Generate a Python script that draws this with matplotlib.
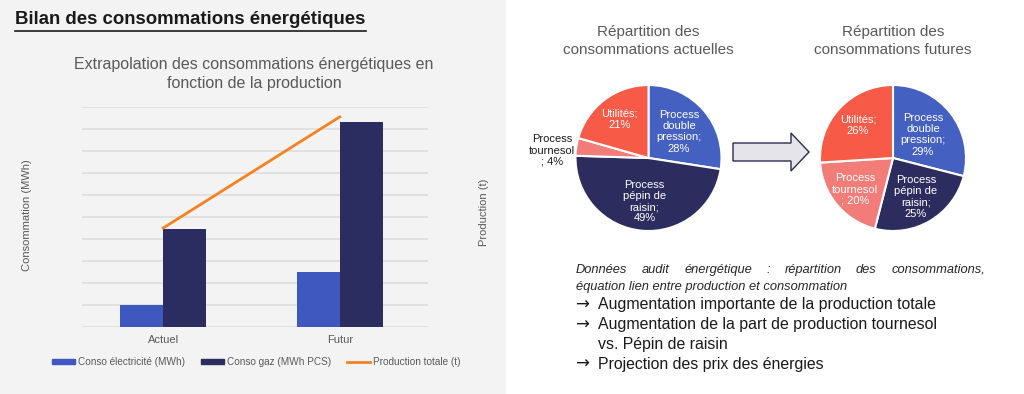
import numpy as np
import matplotlib
matplotlib.use("Agg")
import matplotlib.pyplot as plt
from matplotlib.patches import Patch, Polygon
from matplotlib.lines import Line2D

plt.rcParams['font.family'] = ['Liberation Sans', 'DejaVu Sans']

# --- data ---
categories = ["Actuel", "Futur"]
conso_elec = [1.0, 2.5]      # relative units (no axis values shown)
conso_gaz = [4.45, 9.3]
production = [4.5, 9.55]

pie_labels = ["Process\ndouble\npression;", "Process\npépin de\nraisin;", "Process\ntournesol\n;", "Utilités;"]
pie_actuel = [28, 49, 4, 21]
pie_futur = [29, 25, 20, 26]

pie_colors = ["#4460c0", "#2c2d5e", "#f27d78", "#f75a46"]
c_elec = "#3f58c0"
c_gaz = "#2b2c5f"
c_prod = "#f5821f"
gray_txt = "#595959"

W, H = 1024, 394
fig = plt.figure(figsize=(W / 100, H / 100), dpi=100)
fig.patch.set_facecolor("white")


def px_axes(x0, y0, x1, y1):
    # pixel box (top-left origin) -> figure axes
    return fig.add_axes([x0 / W, 1 - y1 / H, (x1 - x0) / W, (y1 - y0) / H])


# left grey panel
bg = fig.add_axes([0, 0, 506 / W, 1])
bg.set_facecolor("#f3f3f3")
bg.set_xticks([]); bg.set_yticks([])
for s in bg.spines.values():
    s.set_visible(False)
bg.set_zorder(-10)

fig.text(15 / W, 1 - 20 / H, "Bilan des consommations énergétiques", fontsize=13.4,
         fontweight="bold", color="#1a1a1a", va="center", ha="left")
fig.add_artist(Line2D([15 / W, 366 / W], [1 - 30.5 / H, 1 - 30.5 / H], color="#1a1a1a", lw=1.2))

fig.text(254 / W, 1 - 74 / H, "Extrapolation des consommations énergétiques en\nfonction de la production",
         fontsize=11.5, color=gray_txt, ha="center", va="center", linespacing=1.3)

# --- combo chart ---
ax = px_axes(82, 107, 428, 327)
ax.set_facecolor("none")
x = np.arange(len(categories))
w = 0.243
ax.bar(x - w / 2, conso_elec, w, color=c_elec, label="Conso électricité (MWh)", zorder=3)
ax.bar(x + w / 2, conso_gaz, w, color=c_gaz, label="Conso gaz (MWh PCS)", zorder=3)
ax.set_xlim(-0.46, 1.5)
ax.set_ylim(0, 10)
ax.set_yticks(np.arange(0, 11, 1))
ax.yaxis.grid(True, color="#dcdcdc", lw=1.1)
ax.set_axisbelow(True)
ax.set_xticks(x)
ax.set_xticklabels(categories)
for s in ax.spines.values():
    s.set_visible(False)

ax2 = ax.twinx()
ax2.plot(x, production, color=c_prod, lw=2, label="Production totale (t)", zorder=4)
ax2.set_ylim(0, 10)
ax2.set_yticks([])
for s in ax2.spines.values():
    s.set_visible(False)
# twinx turns the left ticks back on, so hide them afterwards
ax.tick_params(axis="y", left=False, labelleft=False, right=False)
ax.tick_params(axis="x", bottom=False, pad=2, labelsize=8, labelcolor=gray_txt)

fig.text(27 / W, 1 - 215 / H, "Consommation (MWh)", rotation=90, fontsize=8, color=gray_txt,
         ha="center", va="center")
fig.text(484 / W, 1 - 212 / H, "Production (t)", rotation=90, fontsize=8, color=gray_txt,
         ha="center", va="center")

handles = [Patch(color=c_elec), Patch(color=c_gaz), Line2D([], [], color=c_prod, lw=2)]
labels = ["Conso électricité (MWh)", "Conso gaz (MWh PCS)", "Production totale (t)"]
fig.legend(handles, labels, loc="center", bbox_to_anchor=(256 / W, 1 - 362 / H), ncol=3,
           frameon=False, fontsize=7.2, labelcolor=gray_txt, handlelength=2.3, handleheight=0.5,
           handletextpad=0.3, columnspacing=1.6)


# --- pies ---
def draw_pie(cx, cy, r, values, title, label_r, outside=None):
    a = px_axes(cx - r, cy - r, cx + r, cy + r)
    a.pie(values, colors=pie_colors, startangle=90, counterclock=False,
          wedgeprops=dict(edgecolor="white", linewidth=1.5))
    a.set_xlim(-1, 1); a.set_ylim(-1, 1)
    a.set_aspect("equal")
    tot = float(sum(values))
    ang = 90.0
    for i, v in enumerate(values):
        span = v / tot * 360
        mid = np.deg2rad(ang - span / 2)
        ang -= span
        if pie_labels[i].endswith("\n;"):
            txt = pie_labels[i] + f" {v}%"
        else:
            txt = pie_labels[i] + "\n" + f"{v}%"
        if outside is not None and i == outside:
            a.text(-1.32, 0.1, txt, fontsize=8, color="#1a1a1a", ha="center", va="center",
                   linespacing=1.15, clip_on=False)
            continue
        rr = label_r[i]
        a.text(rr * np.cos(mid), rr * np.sin(mid), txt, fontsize=8, color="white",
               ha="center", va="center", linespacing=1.15)
    fig.text(cx / W, 1 - 41 / H, title, fontsize=11, color=gray_txt, ha="center", va="center",
             linespacing=1.3)
    return a


draw_pie(648.5, 158, 73, pie_actuel, "Répartition des\nconsommations actuelles",
         [0.55, 0.6, 0.6, 0.66], outside=2)
draw_pie(893, 158, 73, pie_futur, "Répartition des\nconsommations futures",
         [0.52, 0.62, 0.68, 0.66])

# block arrow between pies
pts = [(733, 143), (791, 143), (791, 133), (809, 152), (791, 171), (791, 161), (733, 161)]
arrow = Polygon([(px / W, 1 - py / H) for px, py in pts], closed=True, transform=fig.transFigure,
                facecolor="#e4e4ea", edgecolor="#2b2d4f", lw=1.0)
fig.add_artist(arrow)

# --- text block ---
line1 = "Données audit énergétique : répartition des consommations,".split(" ")
x_left, x_right, y1 = 576, 985, 270
renderer = fig.canvas.get_renderer()
words = [fig.text(0, 1 - y1 / H, wd, fontsize=9.3, style="italic", color="#262626", va="center")
         for wd in line1]
widths = [t.get_window_extent(renderer).width for t in words]
gap = (x_right - x_left - sum(widths)) / (len(words) - 1)
cur = x_left
for t, wd in zip(words, widths):
    t.set_x(cur / W)
    cur += wd + gap
fig.text(x_left / W, 1 - 287 / H, "équation lien entre production et consommation", fontsize=9.3,
         style="italic", color="#262626", va="center")

bullets = [("→", "Augmentation importante de la production totale", 305),
           ("→", "Augmentation de la part de production tournesol", 325),
           ("", "vs. Pépin de raisin", 344),
           ("→", "Projection des prix des énergies", 364)]
for arr, txt, yy in bullets:
    if arr:
        fig.text(575 / W, 1 - yy / H, arr, fontsize=12, color="#1a1a1a", va="center",
                 family="DejaVu Sans")
    fig.text(598 / W, 1 - yy / H, txt, fontsize=11.4, color="#1a1a1a", va="center")

fig.savefig("out.png", dpi=100)
